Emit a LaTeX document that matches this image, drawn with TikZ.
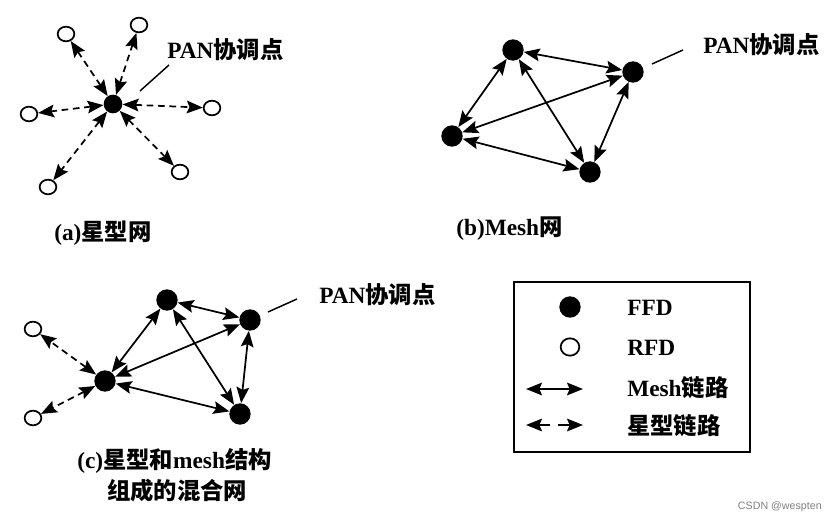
\documentclass[tikz,border=0pt]{standalone}
\usepackage{fontspec}
\setmainfont{Liberation Serif}
\newfontfamily\cjk{Noto Sans CJK SC}
\newfontfamily\wm{Liberation Sans}
\usetikzlibrary{arrows.meta,shapes.geometric}
\begin{document}
\begin{tikzpicture}[x=0.75pt,y=-0.75pt,
  ffd/.style={circle,fill=black,inner sep=0pt,minimum size=14pt},
  rfd/.style={ellipse,draw=black,line width=1.3pt,fill=white,inner sep=0pt,minimum width=12.5pt,minimum height=11pt},
  tip/.tip={Stealth[length=12pt,width=9.5pt,inset=2pt]},
  mesh/.style={line width=1.3pt,tip-tip},
  star/.style={line width=1.3pt,dash pattern=on 5pt off 3.5pt,tip-tip},
  lbl/.style={font=\fontsize{17.5}{20}\selectfont\bfseries,inner sep=0pt,anchor=west},
  pan/.style={line width=1.1pt}]
\useasboundingbox (0,0) rectangle (828,523);
% ---------- (a) star
\node[ffd] (a0) at (113,104) {};
\node[rfd] (a1) at (66,34) {};
\node[rfd] (a2) at (139,25) {};
\node[rfd] (a3) at (212,108) {};
\node[rfd] (a4) at (180,172) {};
\node[rfd] (a5) at (48,187) {};
\node[rfd] (a6) at (29,114) {};
\foreach \i in {1,...,6} \draw[star] (a0) -- (a\i);
\node[lbl] (apan) at (167,50) {PAN{\cjk 协调点}};
\coordinate (ap) at (169,65);
\draw[pan] (ap) -- (140,91);
\node[lbl] (acap) at (54,233) {(a){\cjk 星型网}};
% ---------- (b) mesh
\node[ffd,minimum size=16pt] (b1) at (513,50) {};
\node[ffd,minimum size=16pt] (b2) at (633,72) {};
\node[ffd,minimum size=16pt] (b3) at (452,136) {};
\node[ffd,minimum size=16pt] (b4) at (590,172) {};
\draw[mesh] (b1) -- (b2);
\draw[mesh] (b1) -- (b3);
\draw[mesh] (b1) -- (b4);
\draw[mesh] (b2) -- (b3);
\draw[mesh] (b2) -- (b4);
\draw[mesh] (b3) -- (b4);
\node[lbl] (bpan) at (703,45) {PAN{\cjk 协调点}};
\coordinate (bp) at (683,50);
\draw[pan] (bp) -- (652,64);
\node[lbl] (bcap) at (456,229) {(b)Mesh{\cjk 网}};
% ---------- (c) hybrid
\node[ffd,minimum size=16pt] (c1) at (167,300) {};
\node[ffd,minimum size=16pt] (c2) at (250,320) {};
\node[ffd,minimum size=16pt] (c0) at (105,381) {};
\node[ffd,minimum size=16pt] (c3) at (240,414) {};
\node[rfd] (c5) at (33,329) {};
\node[rfd] (c6) at (33,418) {};
\draw[mesh] (c0) -- (c1);
\draw[mesh] (c0) -- (c2);
\draw[mesh] (c0) -- (c3);
\draw[mesh] (c1) -- (c2);
\draw[mesh] (c1) -- (c3);
\draw[mesh] (c2) -- (c3);
\draw[star] (c0) -- (c5);
\draw[star] (c0) -- (c6);
\node[lbl] (cpan) at (319,295) {PAN{\cjk 协调点}};
\coordinate (cp) at (297,299);
\draw[pan] (cp) -- (268,312);
\node[lbl] (ccap1) at (77,461) {(c){\cjk 星型和}mesh{\cjk 结构}};
\node[lbl] (ccap2) at (107,491) {{\cjk 组成的混合网}};
% ---------- legend
\node[draw=black,line width=1.5pt,minimum width=177pt,minimum height=127.5pt,inner sep=0pt] (leg) at (631.5,367) {};
\node[ffd,minimum size=16pt] (l1) at (570,307) {};
\node[rfd,minimum width=14pt,minimum height=13pt] (l2) at (570,347) {};
\coordinate (m1) at (526,389);
\coordinate (m2) at (583,389);
\draw[mesh] (m1) -- (m2);
\coordinate (s1) at (526,425);
\coordinate (s2) at (583,425);
\draw[line width=1.3pt,tip-] (s1) -- (550,425);
\draw[line width=1.3pt,-tip] (558,425) -- (s2);
\node[lbl] (t1) at (627,308) {FFD};
\node[lbl] (t2) at (627,348) {RFD};
\node[lbl] (t3) at (627,388) {Mesh{\cjk 链路}};
\node[lbl] (t4) at (627,426) {{\cjk 星型链路}};
% watermark
\node[font=\wm\fontsize{8}{9}\selectfont,text=gray,anchor=east,inner sep=0pt] (wm) at (822,507) {CSDN @wespten};
\end{tikzpicture}
\end{document}
